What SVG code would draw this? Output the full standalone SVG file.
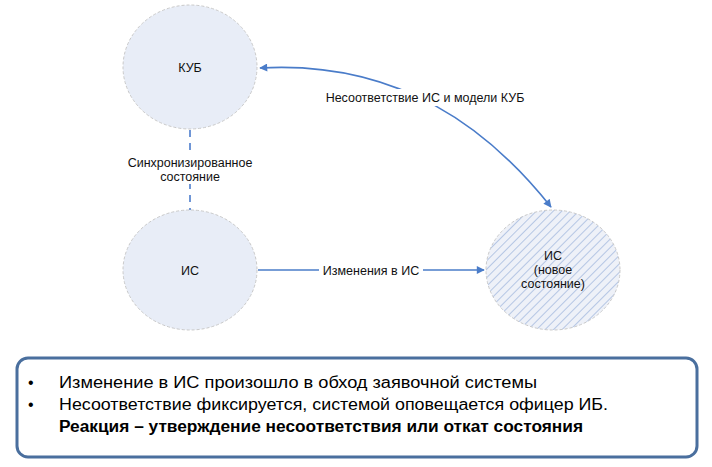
<svg xmlns="http://www.w3.org/2000/svg" width="712" height="467" viewBox="0 0 712 467">
<defs>
<pattern id="hatch" patternUnits="userSpaceOnUse" width="6" height="6" patternTransform="rotate(45)">
<rect width="6" height="6" fill="#eef1f8"/>
<line x1="0" y1="0" x2="0" y2="6" stroke="#a7bbe0" stroke-width="1.6"/>
</pattern>
<marker id="arr" viewBox="0 0 10 10" refX="9" refY="5" markerWidth="11" markerHeight="8" markerUnits="userSpaceOnUse" orient="auto-start-reverse">
<path d="M0,0 L10,5 L0,10 Z" fill="#4a7cc9"/>
</marker>
<style>
.node{fill:#e8edf7;stroke:#c9c9c9;stroke-width:1;stroke-dasharray:3 2}
.lbl{font-family:"Liberation Sans",Arial,sans-serif;font-size:12.5px;fill:#111;text-anchor:middle}
.conn{fill:none;stroke:#4a7cc9;stroke-width:1.6}
.dash{fill:none;stroke:#6f96d6;stroke-width:2;stroke-dasharray:7 6}
.box{font-family:"Liberation Sans",Arial,sans-serif;font-size:16px;fill:#000}
</style>
</defs>
<rect width="712" height="467" fill="#fff"/>
<g id="connectors">
<line class="dash" x1="190" y1="130" x2="190" y2="210"/>
<line class="conn" x1="258" y1="270" x2="484" y2="270" marker-end="url(#arr)"/>
<path class="conn" d="M551 207 C490 130 400 60 260 68" marker-start="url(#arr)" marker-end="url(#arr)"/>
<rect x="318" y="89" width="214" height="17" fill="#fff"/>
<text class="lbl" x="425" y="101.5">Несоответствие ИС и модели КУБ</text>
<rect x="319" y="262" width="104" height="16" fill="#fff"/>
<text class="lbl" x="371" y="274.5">Изменения в ИС</text>
<rect x="122" y="152" width="136" height="32" fill="#fff"/>
<text class="lbl" x="190" y="167">Синхронизированное</text>
<text class="lbl" x="190" y="181">состояние</text>
</g>
<g id="node-kub">
<ellipse class="node" cx="190" cy="67" rx="67" ry="62"/>
<text class="lbl" x="190" y="72">КУБ</text>
</g>
<g id="node-is">
<ellipse class="node" cx="190" cy="270" rx="67" ry="60"/>
<text class="lbl" x="190" y="274.5">ИС</text>
</g>
<g id="node-is-new">
<ellipse cx="553" cy="270" rx="67" ry="60" fill="url(#hatch)" stroke="#c9c9c9" stroke-width="1" stroke-dasharray="3 2"/>
<text class="lbl" x="553" y="259.5">ИС</text>
<text class="lbl" x="553" y="274">(новое</text>
<text class="lbl" x="553" y="288">состояние)</text>
</g>
<g id="note">
<rect x="17" y="358" width="680" height="99" rx="11" ry="11" fill="#fff" stroke="#4a6f9e" stroke-width="3"/>
<text class="box" x="28" y="388">•</text>
<text class="box" x="59" y="388" textLength="478" lengthAdjust="spacingAndGlyphs">Изменение в ИС произошло в обход заявочной системы</text>
<text class="box" x="28" y="410">•</text>
<text class="box" x="59" y="410" textLength="549" lengthAdjust="spacingAndGlyphs">Несоответствие фиксируется, системой оповещается офицер ИБ.</text>
<text class="box" x="59" y="432" font-weight="bold" textLength="524" lengthAdjust="spacingAndGlyphs">Реакция – утверждение несоответствия или откат состояния</text>
</g>
</svg>
